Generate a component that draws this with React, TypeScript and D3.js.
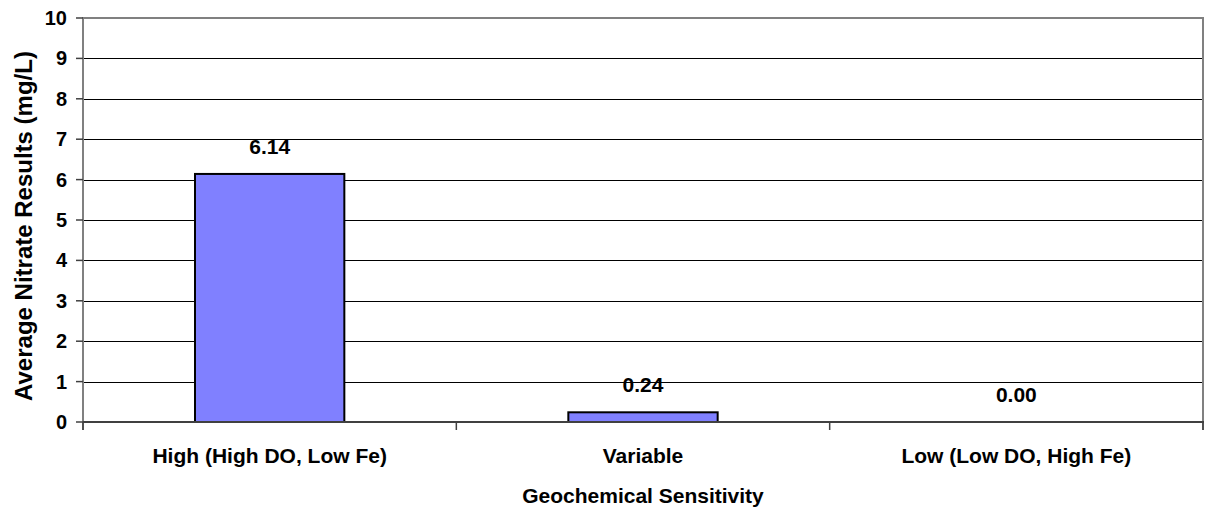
import React from "react";
import * as d3 from "d3";

const categories = ["High (High DO, Low Fe)", "Variable", "Low (Low DO, High Fe)"];
const values = [6.14, 0.24, 0.0];
const yTicks = [0, 1, 2, 3, 4, 5, 6, 7, 8, 9, 10];
const xTitle = "Geochemical Sensitivity";
const yTitle = "Average Nitrate Results (mg/L)";

const W = 1206;
const H = 516;
const left = 83;
const right = 1203;
const top = 18;
const bottom = 422;

export default function App() {
  const x = d3.scaleBand<string>().domain(categories).range([left, right]).paddingInner(0).paddingOuter(0);
  const y = d3.scaleLinear().domain([0, 10]).range([bottom, top]);
  const barW = x.bandwidth() * 0.4;
  const font = "Arial, 'Liberation Sans', Helvetica, sans-serif";
  const boundaries = [...categories.map((c) => x(c) as number), right];

  return (
    <svg width={W} height={H} style={{ position: "absolute", left: 0, top: 0, background: "#fff" }} fontFamily={font}>
      <rect x={0} y={0} width={W} height={H} fill="#fff" />
      {/* gridlines */}
      {yTicks.filter((t) => t > 0 && t < 10).map((t) => (
        <line key={t} x1={left} x2={right} y1={Math.round(y(t)) + 0.5} y2={Math.round(y(t)) + 0.5} stroke="#000" strokeWidth={1} />
      ))}
      {/* top & right border */}
      <line x1={left} x2={right + 1} y1={y(10)} y2={y(10)} stroke="#808080" strokeWidth={2} />
      <line x1={right} x2={right} y1={top} y2={bottom + 8} stroke="#808080" strokeWidth={2} />
      {/* bars */}
      {categories.map((c, i) => {
        const cx = (x(c) as number) + x.bandwidth() / 2;
        return (
          <g key={c}>
            {values[i] > 0 && (
              <rect x={cx - barW / 2} y={y(values[i])} width={barW} height={bottom - y(values[i])} fill="#8080FF" stroke="#000" strokeWidth={2} />
            )}
            <text x={cx} y={y(values[i]) - 20} textAnchor="middle" fontSize={21} fontWeight="bold" fill="#000">
              {values[i].toFixed(2)}
            </text>
            <text x={cx} y={463} textAnchor="middle" fontSize={21} fontWeight="bold" fill="#000">
              {c}
            </text>
          </g>
        );
      })}
      {/* y axis */}
      <line x1={left} x2={left} y1={top - 1} y2={bottom + 8} stroke="#808080" strokeWidth={2} />
      {yTicks.map((t) => (
        <g key={t}>
          <line x1={76} x2={left} y1={y(t)} y2={y(t)} stroke="#404040" strokeWidth={1.5} />
          <text x={67} y={y(t) + 7} textAnchor="end" fontSize={20} fontWeight="bold" fill="#000">
            {t}
          </text>
        </g>
      ))}
      {/* x axis */}
      <line x1={left} x2={right + 1} y1={bottom} y2={bottom} stroke="#404040" strokeWidth={2} />
      {boundaries.map((b, i) => (
        <line key={i} x1={b} x2={b} y1={bottom} y2={bottom + 8} stroke="#404040" strokeWidth={1.5} />
      ))}
      <text x={(left + right) / 2} y={503} textAnchor="middle" fontSize={21} fontWeight="bold" fill="#000">
        {xTitle}
      </text>
      <text transform={`translate(32, 226) rotate(-90)`} textAnchor="middle" fontSize={24} fontWeight="bold" fill="#000">
        {yTitle}
      </text>
    </svg>
  );
}
